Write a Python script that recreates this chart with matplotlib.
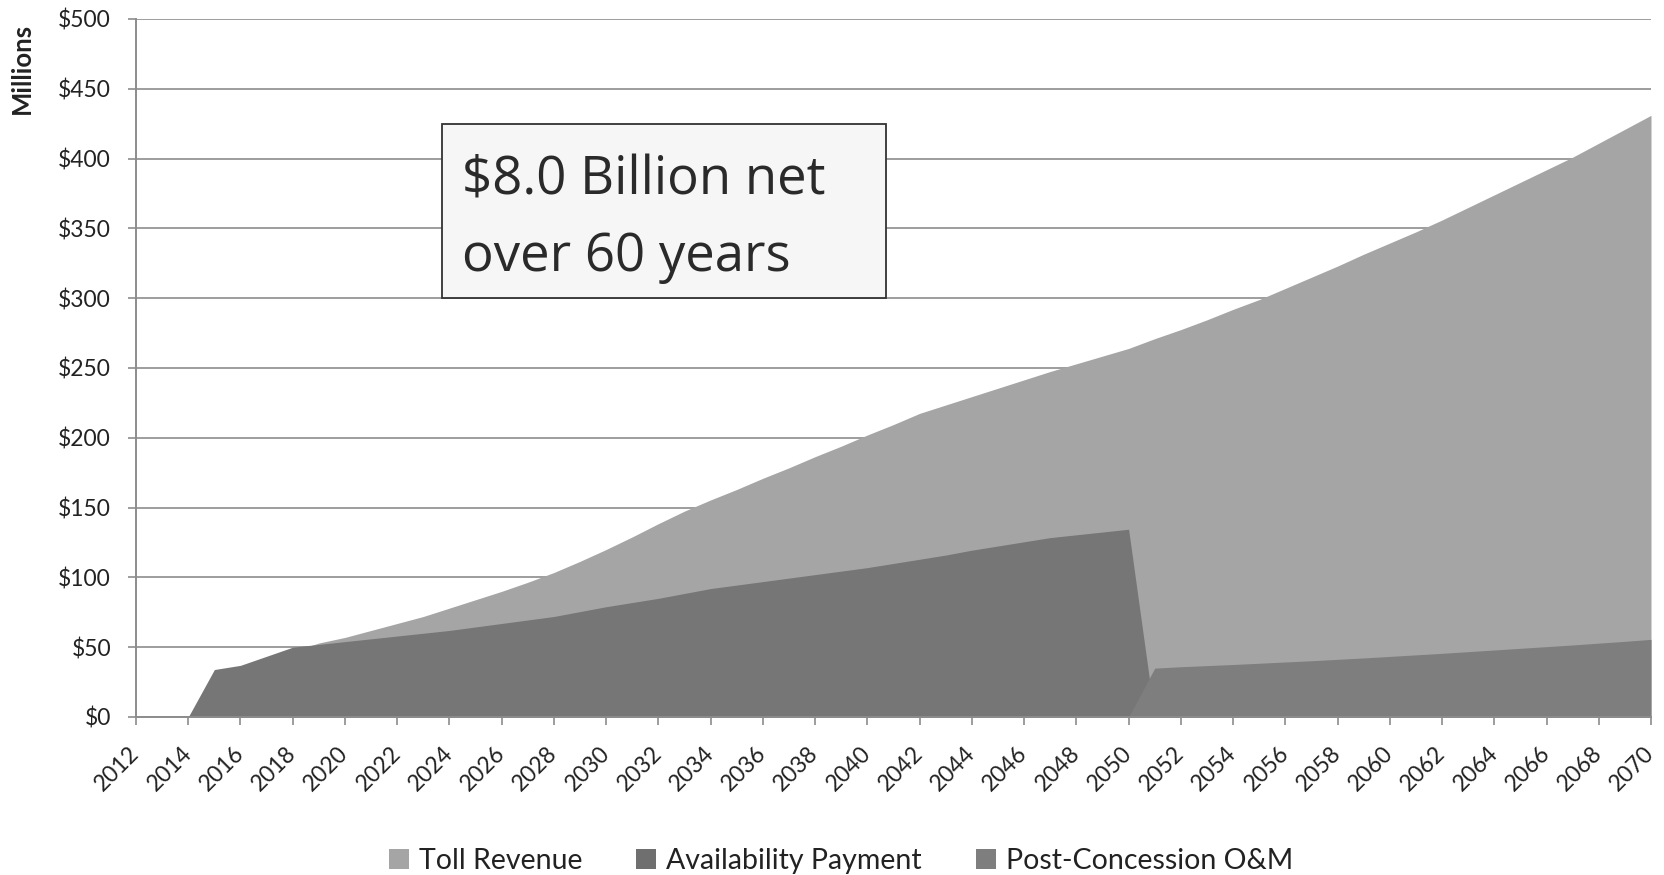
import numpy as np
import matplotlib.pyplot as plt
from matplotlib.patches import Patch, Rectangle

# years on the category axis
years = list(range(2012, 2071))

# $ millions (one value per year 2012-2070)
toll_revenue = [0, 0, 0, 18, 28, 38, 47, 53, 57, 62,
                67, 72, 78, 84, 90, 96.5, 103.5, 111.5, 120, 129,
                138.5, 147.5, 155.5, 163, 171, 178.5, 186.5, 194, 202, 209.5,
                217.5, 223.5, 229.5, 235.5, 241.5, 247.5, 253, 258.5, 264, 271,
                277.5, 284.5, 292, 299, 307, 315, 323, 331.5, 339.5, 347.5,
                356, 365, 374, 383, 392, 401, 411, 421, 431]
availability = [0, 0, 0, 34, 37, 43.5, 50, 52, 54, 56,
                58, 60, 62, 64.5, 67, 69.5, 72, 75.5, 79, 82,
                85, 88.5, 92, 94.5, 97, 99.5, 102, 104.5, 107, 110,
                113, 116, 119.5, 122.5, 125.5, 128.5, 130.5, 132.5, 134.5, 0,
                0, 0, 0, 0, 0, 0, 0, 0, 0, 0,
                0, 0, 0, 0, 0, 0, 0, 0, 0]
post_concession = [0, 0, 0, 0, 0, 0, 0, 0, 0, 0,
                   0, 0, 0, 0, 0, 0, 0, 0, 0, 0,
                   0, 0, 0, 0, 0, 0, 0, 0, 0, 0,
                   0, 0, 0, 0, 0, 0, 0, 0, 0, 35,
                   36, 36.8, 37.6, 38.5, 39.4, 40.3, 41.3, 42.3, 43.4, 44.5,
                   45.6, 46.8, 48, 49.2, 50.4, 51.6, 52.9, 54.2, 55.6]

series_names = ["Toll Revenue", "Availability Payment", "Post-Concession O&M"]
y_ticks = [0, 50, 100, 150, 200, 250, 300, 350, 400, 450, 500]
x_ticks = list(range(2012, 2071, 2))
note_lines = ["$8.0 Billion net", "over 60 years"]

c_toll = "#a5a5a5"
c_avail = "#767676"
c_post = "#7e7e7e"
c_grid = "#8c8c8c"

plt.rcParams['font.family'] = ['Lato', 'DejaVu Sans']

fig = plt.figure(figsize=(16.64, 8.75), dpi=100)
ax = fig.add_axes([136 / 1664, 1 - 717 / 875, (1651 - 136) / 1664, (717 - 19) / 875])

ax.fill_between(years, toll_revenue, color=c_toll, lw=0, zorder=2)
ax.fill_between(years, availability, color=c_avail, lw=0, zorder=3)
ax.fill_between(years, post_concession, color=c_post, lw=0, zorder=4)

ax.set_xlim(2012, 2070)
ax.set_ylim(0, 500)
ax.set_yticks(y_ticks)
ax.set_yticklabels(["$" + str(v) for v in y_ticks])
ax.set_xticks(x_ticks)
ax.set_xticklabels([str(v) for v in x_ticks], rotation=45, ha='right',
                   va='center', rotation_mode='anchor')

ax.grid(axis='y', color=c_grid, lw=1.2, zorder=0)
ax.set_axisbelow(True)
for s in ['top', 'right']:
    ax.spines[s].set_visible(False)
for s in ['left', 'bottom']:
    ax.spines[s].set_color(c_grid)
    ax.spines[s].set_linewidth(1.4)
    ax.spines[s].set_zorder(5)
ax.tick_params(axis='y', length=6, width=1.2, color=c_grid, labelsize=16.5,
               labelcolor='#222222', pad=12)
ax.tick_params(axis='x', length=6, width=1.2, color=c_grid, labelsize=16.5,
               labelcolor='#222222', pad=18)

fig.text(22 / 1664, 1 - 68 / 875, "Millions", rotation=90, fontsize=18.5,
         fontweight='bold', ha='center', va='center', color='#222222')

# note box
box = Rectangle((441.7 / 1664, 1 - 298 / 875), (886 - 441.7) / 1664, (298 - 124) / 875,
                transform=fig.transFigure, facecolor='#f6f6f6', edgecolor='#333333',
                lw=1.3, zorder=10)
fig.patches.append(box)
for line, base in zip(note_lines, (195, 271)):
    fig.text(462 / 1664, 1 - base / 875, line, fontsize=38, color='#2a2a2a',
             family=['Open Sans', 'DejaVu Sans'], ha='left', va='baseline', zorder=11)

handles = [Patch(facecolor=c, edgecolor='none') for c in (c_toll, "#6f6f6f", c_post)]
fig.legend(handles, series_names, loc='center', ncol=3, frameon=False,
           bbox_to_anchor=(841 / 1664, 1 - 861 / 875), fontsize=20.5,
           handlelength=0.7, handleheight=0.7, handletextpad=0.35,
           columnspacing=1.9, labelcolor='#222222')

fig.savefig("out.png", dpi=100)
